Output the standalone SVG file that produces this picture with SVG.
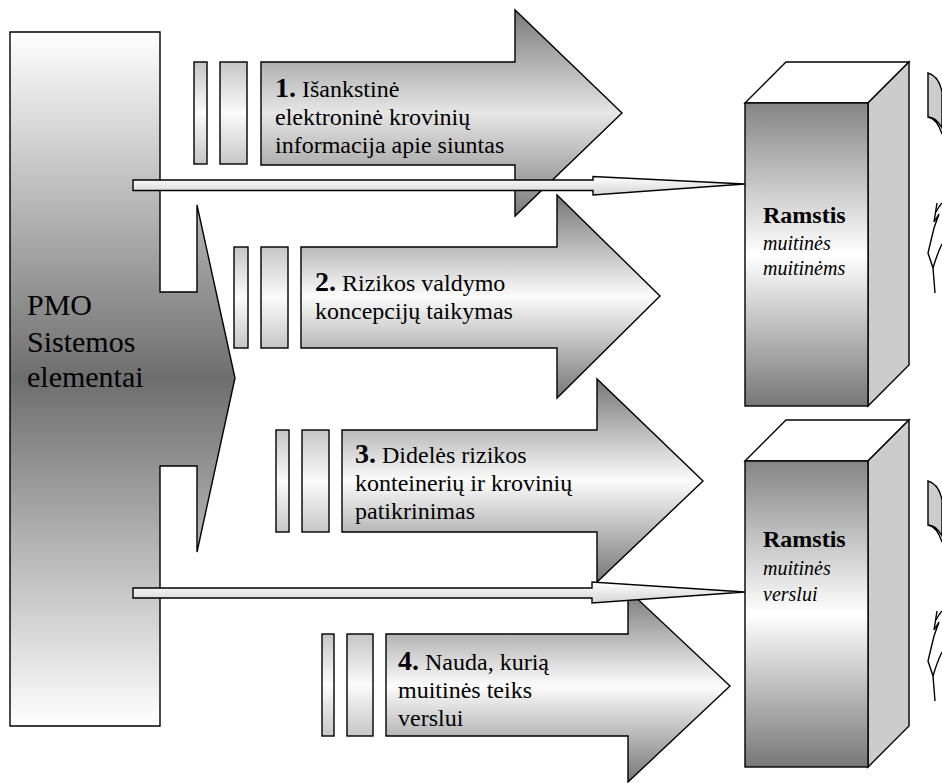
<svg xmlns="http://www.w3.org/2000/svg" width="942" height="783" viewBox="0 0 942 783">
  <defs>
    <!-- vertical "from centre" shadings -->
    <linearGradient id="gPmo" x1="0" y1="0" x2="0" y2="1">
      <stop offset="0" stop-color="#ffffff"/>
      <stop offset="0.5" stop-color="#6e6e6e"/>
      <stop offset="1" stop-color="#ffffff"/>
    </linearGradient>
    <linearGradient id="gArrow" x1="0" y1="0" x2="0" y2="1">
      <stop offset="0" stop-color="#767676"/>
      <stop offset="0.5" stop-color="#fcfcfc"/>
      <stop offset="1" stop-color="#767676"/>
    </linearGradient>
    <linearGradient id="gArrow1" x1="0" y1="0" x2="0" y2="1">
      <stop offset="0" stop-color="#7a7a7a"/>
      <stop offset="0.5" stop-color="#e6e6e6"/>
      <stop offset="1" stop-color="#7a7a7a"/>
    </linearGradient>
    <linearGradient id="gBar" x1="0" y1="0" x2="0" y2="1">
      <stop offset="0" stop-color="#c6c6c6"/>
      <stop offset="0.5" stop-color="#fbfbfb"/>
      <stop offset="1" stop-color="#c6c6c6"/>
    </linearGradient>
    <linearGradient id="gPillar" x1="0" y1="0" x2="0" y2="1">
      <stop offset="0" stop-color="#858585"/>
      <stop offset="0.5" stop-color="#ffffff"/>
      <stop offset="1" stop-color="#777777"/>
    </linearGradient>
    <linearGradient id="gLink" x1="0" y1="0" x2="0" y2="1">
      <stop offset="0" stop-color="#ffffff"/>
      <stop offset="1" stop-color="#d4d4d4"/>
    </linearGradient>
  </defs>
  <style>
    .edge { stroke: #000; stroke-width: 1.4; stroke-linejoin: miter; }
    .arrow { fill: url(#gArrow); }
    .bar { fill: url(#gBar); }
    .txt { font-family: "Liberation Serif", "Times New Roman", serif; fill: #000; }
    .step { font-size: 24px; }
    .num { font-size: 28px; font-weight: bold; }
    .pmo { font-size: 30px; }
    .head { font-size: 24px; font-weight: bold; }
    .sub { font-size: 20px; font-style: italic; }
    .front { fill: url(#gPillar); }
    .top { fill: #ffffff; }
    .side { fill: #cccccc; }
    .link { fill: url(#gLink); }
    .curl { fill: #cccccc; }
    .line { fill: none; stroke: #000; stroke-width: 1.4; }
  </style>

  <!-- system block with its arrow -->
  <g id="pmo">
    <polygon class="edge" fill="url(#gPmo)" points="10,32 160,32 160,292 197,292 197,205 235,378 197,552 197,466 160,466 160,726 10,726"/>
    <text class="txt pmo" x="27" y="315">PMO</text>
    <text class="txt pmo" x="27" y="352">Sistemos</text>
    <text class="txt pmo" x="27" y="387">elementai</text>
  </g>

  <!-- step 1 -->
  <g id="step1">
    <rect class="edge bar" x="194" y="62" width="13" height="102"/>
    <rect class="edge bar" x="220" y="62" width="27" height="102"/>
    <polygon class="edge" fill="url(#gArrow1)" points="261,62 515,62 515,10 622,113 515,216 515,165 261,165"/>
    <text class="txt step" x="275" y="97"><tspan class="num">1.</tspan> Išankstinė</text>
    <text class="txt step" x="275" y="125">elektroninė krovinių</text>
    <text class="txt step" x="275" y="153">informacija apie siuntas</text>
  </g>

  <!-- step 2 -->
  <g id="step2">
    <rect class="edge bar" x="234" y="247" width="14" height="101"/>
    <rect class="edge bar" x="261" y="247" width="27" height="101"/>
    <polygon class="edge arrow" points="301,247 557,247 557,195 660,296 557,398 557,348 301,348"/>
    <text class="txt step" x="315" y="291"><tspan class="num">2.</tspan> Rizikos valdymo</text>
    <text class="txt step" x="315" y="319">koncepcijų taikymas</text>
  </g>

  <!-- step 3 -->
  <g id="step3">
    <rect class="edge bar" x="276" y="430" width="13" height="102"/>
    <rect class="edge bar" x="302" y="430" width="27" height="102"/>
    <polygon class="edge arrow" points="342,430 597,430 597,379 703,481 597,582 597,532 342,532"/>
    <text class="txt step" x="355" y="463"><tspan class="num">3.</tspan> Didelės rizikos</text>
    <text class="txt step" x="355" y="491">konteinerių ir krovinių</text>
    <text class="txt step" x="355" y="519">patikrinimas</text>
  </g>

  <!-- step 4 -->
  <g id="step4">
    <rect class="edge bar" x="322" y="634" width="12" height="102"/>
    <rect class="edge bar" x="347" y="634" width="26" height="102"/>
    <polygon class="edge arrow" points="386,634 628,634 628,590 730,686 628,782 628,736 386,736"/>
    <text class="txt step" x="398" y="670"><tspan class="num">4.</tspan> Nauda, kurią</text>
    <text class="txt step" x="398" y="698">muitinės teiks</text>
    <text class="txt step" x="398" y="726">verslui</text>
  </g>

  <!-- pillar: customs to customs -->
  <g id="pillar1">
    <polygon class="edge top" points="745,103 786,62 909,62 868,103"/>
    <polygon class="edge side" points="868,103 909,62 909,365 868,406"/>
    <rect class="edge front" x="745" y="103" width="123" height="303"/>
    <text class="txt head" x="763" y="223">Ramstis</text>
    <text class="txt sub" x="763" y="250">muitinės</text>
    <text class="txt sub" x="763" y="275">muitinėms</text>
  </g>

  <!-- pillar: customs to business -->
  <g id="pillar2">
    <polygon class="edge top" points="745,461 786,420 909,420 868,461"/>
    <polygon class="edge side" points="868,461 909,420 909,726 868,767"/>
    <rect class="edge front" x="745" y="461" width="123" height="306"/>
    <text class="txt head" x="763" y="547">Ramstis</text>
    <text class="txt sub" x="763" y="575">muitinės</text>
    <text class="txt sub" x="763" y="601">verslui</text>
  </g>

  <!-- long thin arrows from the system block to the pillars -->
  <g id="connectors">
    <polygon class="edge link" points="133,180 593,180 593,176.5 745,184 593,195 593,190.5 133,190.5"/>
    <polygon class="edge link" points="133,588 592,588 592,582 745,592 592,603 592,598 133,598"/>
  </g>

  <!-- curved arrow fragments at the right margin -->
  <g id="curls1">
    <path class="edge curl" d="M928,73 C935,75 940,82 942,92 L942,128 C938,121 933,117 928,117 Z"/>
    <path class="line" d="M928,117 C934,118 939,125 942,134"/>
    <path class="line" d="M937,203 L934,222 L939,214 L934,228 L928,253 L933,268 L935,293"/>
    <path class="line" d="M936,212 C938,208 940,205 942,203"/>
    <path class="line" d="M933,268 C936,258 939,250 942,244"/>
  </g>
  <g id="curls2">
    <path class="edge curl" d="M928,481 C935,483 940,490 942,500 L942,536 C938,529 933,525 928,525 Z"/>
    <path class="line" d="M928,525 C934,526 939,533 942,542"/>
    <path class="line" d="M937,611 L934,630 L939,622 L934,636 L928,661 L933,676 L935,701"/>
    <path class="line" d="M936,620 C938,616 940,613 942,611"/>
    <path class="line" d="M933,676 C936,666 939,658 942,652"/>
  </g>
</svg>
